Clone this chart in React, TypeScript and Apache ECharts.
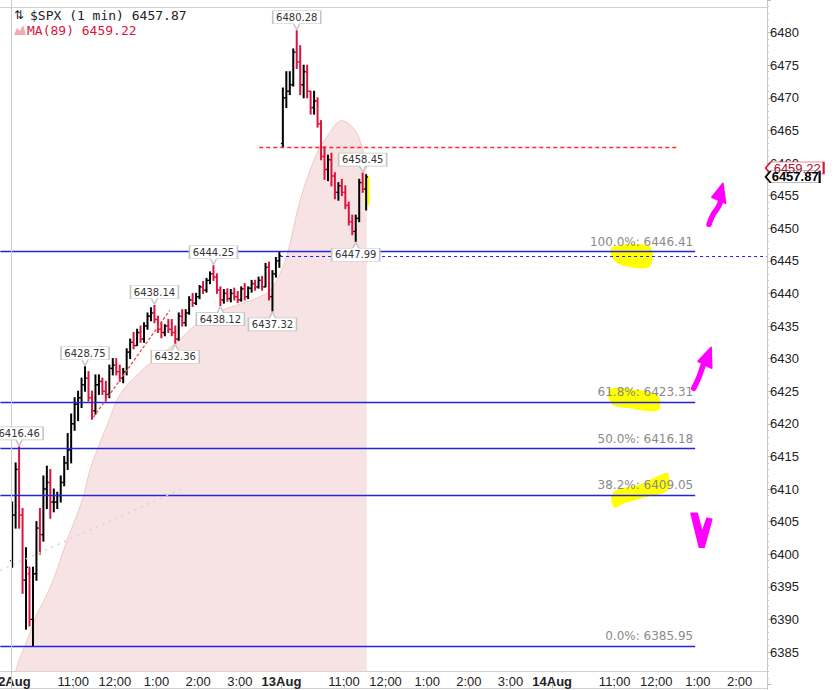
import React, { useEffect, useRef } from 'react';
import * as echarts from 'echarts';

// ---------- axis / session layout ----------
const DAY_NAMES = ['11Aug', '12Aug', '13Aug', '14Aug'];
const PRE_MINUTES = 15; // last minutes of 11Aug visible at the left edge
const SESSION_MINUTES = 390; // 9:30 - 16:00
const LAST_DAY_MINUTES = 310; // visible part of 14Aug
const BAR_MINUTES = 5;

// ---------- price bars [open, high, low, close], 5-minute bars ----------
const bars12Aug: number[][] = [
  [6399, 6408, 6398, 6406], [6406, 6414, 6404, 6413], [6413, 6416.46, 6404, 6406], [6406, 6407, 6394, 6396],
  [6396, 6401, 6388.5, 6398], [6397, 6398, 6389, 6390], [6390, 6398, 6385.95, 6397], [6397, 6405, 6396, 6404],
  [6404, 6407, 6400, 6403], [6403, 6412, 6402, 6410], [6410, 6413.5, 6407, 6411], [6411, 6413, 6405.5, 6408],
  [6408, 6410, 6406.5, 6408], [6408, 6409.5, 6407, 6409], [6409, 6412, 6408, 6411], [6411, 6415, 6410.5, 6414],
  [6414, 6418.5, 6413, 6416], [6416, 6421.5, 6414, 6420], [6420, 6424, 6419, 6423], [6423, 6425, 6420.5, 6424],
  [6424, 6427, 6422.5, 6426], [6426, 6428.75, 6425, 6427], [6427, 6428, 6423.5, 6424], [6424, 6425, 6420.7, 6422],
  [6422, 6427.5, 6421.5, 6426], [6426, 6427.5, 6424.5, 6426.5], [6426.5, 6427, 6424.5, 6425], [6425, 6426.5, 6423.5, 6424.5],
  [6424.5, 6429, 6424, 6428.5], [6428.5, 6430, 6427.5, 6429], [6429, 6430, 6427.5, 6428], [6428, 6429, 6426.5, 6427],
  [6427, 6428.5, 6426.3, 6428], [6428, 6431.5, 6427.5, 6431], [6431, 6433, 6430, 6432.5], [6432.5, 6434, 6431.5, 6432],
  [6432, 6434.5, 6432, 6434], [6434, 6435, 6432.5, 6433], [6433, 6435.5, 6432.5, 6435], [6435, 6437, 6434.5, 6436.5],
  [6436.5, 6437.8, 6435.8, 6437], [6437, 6438.14, 6435.5, 6436], [6436, 6436.5, 6434, 6434.5], [6434.5, 6435.5, 6433.2, 6434],
  [6434, 6435.2, 6433.5, 6435], [6435, 6436, 6434, 6434.5], [6434.5, 6436, 6433.5, 6434], [6434, 6435, 6432.36, 6433],
  [6433, 6437, 6432.8, 6436.5], [6436.5, 6437.5, 6435, 6435.5], [6435.5, 6437.5, 6435, 6437], [6437, 6439.5, 6436.8, 6439],
  [6439, 6440, 6438, 6438.5], [6438.5, 6440, 6438.3, 6439.5], [6439.5, 6441.2, 6439.2, 6441], [6441, 6441.8, 6440, 6440.5],
  [6440.5, 6442.3, 6440.2, 6442], [6442, 6443.3, 6441.5, 6443], [6443, 6444.25, 6442, 6442.5], [6442.5, 6443, 6440, 6440.5],
  [6440.5, 6441, 6438.12, 6439], [6439, 6440.6, 6438.5, 6440], [6440, 6440.7, 6438.8, 6439.2], [6439.2, 6440.6, 6438.7, 6440],
  [6440, 6440.8, 6439, 6439.5], [6439.5, 6440.3, 6438.6, 6439], [6439, 6441, 6438.8, 6440.7], [6440.7, 6441.5, 6439, 6439.5],
  [6439.5, 6441, 6439.2, 6440.8], [6440.8, 6442, 6440.2, 6441.5], [6441.5, 6442, 6440.5, 6441], [6441, 6442.5, 6440.8, 6442],
  [6442, 6442.6, 6440.5, 6441], [6441, 6444.6, 6441, 6444], [6444, 6444.8, 6439, 6439.5], [6439.5, 6443.5, 6437.32, 6443],
  [6443, 6445.5, 6442.5, 6445], [6445, 6446.41, 6444, 6445.76],
];
const bars13Aug: number[][] = [
  [6463, 6471.5, 6462.4, 6470], [6470, 6474, 6468.5, 6471], [6471, 6474, 6470.5, 6472], [6472, 6477.5, 6471.8, 6477],
  [6477, 6480.28, 6474.5, 6475.5], [6475.5, 6478, 6470.5, 6472], [6472, 6475, 6470, 6474], [6474, 6475, 6470, 6471],
  [6471, 6471, 6467.5, 6468.5], [6468.5, 6471, 6467.5, 6469.5], [6469.5, 6470, 6465.5, 6466], [6466, 6466.5, 6460.5, 6461],
  [6461, 6462.5, 6457.5, 6459], [6459, 6461.2, 6457.3, 6460.5], [6460.5, 6461.5, 6456.5, 6458], [6458, 6458.5, 6454.5, 6455.5],
  [6455.5, 6457, 6454.3, 6456.5], [6456.5, 6457.5, 6455, 6455.5], [6455.5, 6456.5, 6453, 6453.5], [6453.5, 6454, 6450.5, 6451],
  [6451, 6452, 6449, 6449.5], [6449.5, 6452, 6447.99, 6451.5], [6451.5, 6457.5, 6451, 6457], [6457, 6458.45, 6455.5, 6456],
  [6456, 6458.2, 6452.8, 6457.87],
];

// ---------- MA(89): [minutes since 12Aug open, value] ----------
const maPoints: number[][] = [
  [7, 6382.0], [12, 6383.7], [25, 6387.2], [38, 6390.9], [46, 6392.5], [61, 6396.0], [81, 6402.1],
  [103, 6408.3], [114, 6412.9], [124, 6415.9], [139, 6419.8], [157, 6424.4], [186, 6427.9], [215, 6430.5],
  [240, 6432.6], [268, 6435.3], [297, 6437.1], [326, 6438.2], [355, 6439.3], [374, 6440.5], [389, 6443.3],
  [399, 6446.2], [417, 6454.3], [441, 6461.5], [456, 6464.1], [477, 6466.5], [499, 6464.5], [513, 6459.22],
];

// ---------- Fibonacci retracement ----------
const fibPcts = ['0.0%', '38.2%', '50.0%', '61.8%', '100.0%'];
const fibValues = [6385.95, 6409.05, 6416.18, 6423.31, 6446.41];
const fibEndMinute = 986;

// ---------- other drawn levels (minutes since 12Aug open) ----------
const priorClose = 6445.76;
const priorCloseFrom = 388;
const redLevel = 6462.4;
const redLevelSpan = [358, 960];
const redTrend = [[119, 6421.0], [229, 6437.4]];
const grayTrend = [[-15, 6397.5], [248, 6410.1]];

// ---------- callouts: [session (1=12Aug, 2=13Aug), bar number, high|low] ----------
const callouts: [number, number, string][] = [
  [1, 2, 'high'], [1, 21, 'high'], [1, 41, 'high'], [1, 47, 'low'], [1, 58, 'high'],
  [1, 60, 'low'], [1, 75, 'low'], [2, 4, 'high'], [2, 21, 'low'], [2, 23, 'high'],
];

// ---------- hand drawn annotations, in [minutes since 12Aug open, price] ----------
const yellowMarks: number[][][] = [
  [[866, 6447.07], [919.5, 6447.22], [921, 6444.15], [885, 6444.15], [867.6, 6445.23]],
  [[863.3, 6425.29], [906.5, 6425.14], [932.5, 6424.22], [932.5, 6422.07], [892.2, 6422.38], [866.2, 6422.99]],
  [[867.6, 6409.49], [906.5, 6410.72], [938.2, 6412.25], [947, 6412.4], [947, 6409.8], [913.7, 6408.73], [885, 6407.81], [869.1, 6407.19]],
  [[509.5, 6457.9], [516.5, 6457.9], [516.5, 6453.5], [509.5, 6453.5]],
];
const magentaStrokes: number[][][] = [
  [[1005.9, 6450.6], [1011.7, 6452.13], [1018.9, 6453.21], [1023.2, 6454.28], [1021.8, 6455.51]],
  [[984.3, 6425.44], [991.5, 6427.29], [997.3, 6428.82], [999, 6429.3]],
];
const magentaFills: number[][][] = [
  [[1010.3, 6454.74], [1026.3, 6456.89], [1030.4, 6453.82]],
  [[990.1, 6429.59], [1008.8, 6431.74], [1010.3, 6428.52]],
  [[980, 6406.27], [988.7, 6406.27], [995.9, 6403.36], [1003.1, 6405.51], [1010.3, 6405.35], [998.7, 6401.06], [991.5, 6401.06]],
];

// ---------- derived ----------
const idx = (g: number) => PRE_MINUTES + Math.round(g);
const barIndex = (session: number, k: number) =>
  PRE_MINUTES + SESSION_MINUTES * (session - 1) + BAR_MINUTES * k + Math.floor(BAR_MINUTES / 2);
const sessions = [bars12Aug, bars13Aug];
const barData: number[][] = [];
sessions.forEach((bars, s) => bars.forEach((b, k) => barData.push([barIndex(s + 1, k), b[0], b[1], b[2], b[3]])));
const lastClose = bars13Aug[bars13Aug.length - 1][3];
const maLast = maPoints[maPoints.length - 1][1];

const categories: string[] = [];
const labelText = new Map<string, string>();
const dayLabels = new Set<string>();
const labelIdx = new Set<number>();
const totalCats = PRE_MINUTES + SESSION_MINUTES * 2 + LAST_DAY_MINUTES;
for (let i = 0; i < totalCats; i++) {
  let day: number;
  let m: number;
  if (i < PRE_MINUTES) {
    day = 0;
    m = SESSION_MINUTES - PRE_MINUTES + i;
  } else {
    const g = i - PRE_MINUTES;
    day = 1 + Math.floor(g / SESSION_MINUTES);
    m = g % SESSION_MINUTES;
  }
  const tot = 9 * 60 + 30 + m;
  const h24 = Math.floor(tot / 60);
  const mm = tot % 60;
  const key = `${DAY_NAMES[day]} ${h24}:${String(mm).padStart(2, '0')}`;
  categories.push(key);
  if (m === 0) {
    labelText.set(key, DAY_NAMES[day]);
    dayLabels.add(key);
    labelIdx.add(i);
  } else if (mm === 0 && h24 >= 11) {
    labelText.set(key, `${h24 > 12 ? h24 - 12 : h24}:00`);
    labelIdx.add(i);
  }
}

const PLOT_BOTTOM_VALUE = 6382.04;
const TOP_CALLOUT = 'path://M0 0H48V13H27L24 19L21 13H0Z';
const BOTTOM_CALLOUT = 'path://M0 6H21L24 0L27 6H48V19H0Z';
const BLUE = '#2424e0';
const RED = '#dc143c';

function buildOption() {
  const calloutData = callouts.map(([s, k, kind]) => {
    const b = sessions[s - 1][k];
    const v = kind === 'high' ? b[1] : b[2];
    const top = kind === 'high';
    return {
      coord: [barIndex(s, k), v],
      value: v,
      symbol: top ? TOP_CALLOUT : BOTTOM_CALLOUT,
      symbolSize: [48, 19],
      symbolOffset: [0, top ? -10.5 : 10.5],
      itemStyle: { color: '#fff', borderColor: '#c4c4c4', borderWidth: 1 },
      label: {
        show: true,
        position: 'inside',
        offset: [0, top ? -3 : 3],
        formatter: v.toFixed(2),
        color: '#333',
        fontSize: 10,
        fontFamily: 'DejaVu Sans',
      },
    };
  });

  const fibLines = fibValues.map((v, i) => [
    {
      coord: [0, v],
      lineStyle: { color: BLUE, width: 1.3, type: 'solid' },
      label: {
        show: true,
        position: 'insideEndTop',
        formatter: `${fibPcts[i]}: ${v.toFixed(2)}`,
        color: '#8a8a8a',
        fontSize: 12,
        fontFamily: 'DejaVu Sans',
        distance: [2, 4],
      },
    },
    { coord: [idx(fibEndMinute), v] },
  ]);

  const otherLines = [
    [
      { coord: [idx(priorCloseFrom), priorClose], lineStyle: { color: BLUE, width: 1.2, type: [3, 3] }, label: { show: false } },
      { coord: [totalCats - 1, priorClose] },
    ],
    [
      { coord: [idx(redLevelSpan[0]), redLevel], lineStyle: { color: '#ff2a2a', width: 1.3, type: [4, 3] }, label: { show: false } },
      { coord: [idx(redLevelSpan[1]), redLevel], lineStyle: { color: '#ff2a2a' } },
    ],
    [
      { coord: [idx(redTrend[0][0]), redTrend[0][1]], lineStyle: { color: '#f04848', width: 1.3, type: [3, 2] }, label: { show: false } },
      { coord: [idx(redTrend[1][0]), redTrend[1][1]] },
    ],
    [
      { coord: [idx(grayTrend[0][0]), grayTrend[0][1]], lineStyle: { color: '#d6d6d6', width: 1.6, type: [2, 5] }, label: { show: false } },
      { coord: [idx(grayTrend[1][0]), grayTrend[1][1]] },
    ],
  ];

  const axisBoxes = [
    {
      coord: [totalCats - 1, maLast],
      value: maLast,
      symbol: 'path://M0 6L5 0H58V12H5Z',
      symbolSize: [58, 12],
      symbolOffset: [28, 0],
      itemStyle: { color: '#fff', borderColor: RED, borderWidth: 1 },
      label: { show: true, position: 'inside', offset: [2.5, 0], formatter: maLast.toFixed(2), color: '#a0102c', fontSize: 13, fontFamily: 'Liberation Sans' },
    },
    {
      coord: [totalCats - 1, lastClose],
      value: lastClose,
      symbol: 'path://M0 6L5 0H54V12H5Z',
      symbolSize: [54, 12],
      symbolOffset: [26, 0],
      itemStyle: { color: '#fff', borderColor: '#000', borderWidth: 1 },
      label: { show: true, position: 'inside', offset: [2.5, 0], formatter: lastClose.toFixed(2), color: '#000', fontSize: 13, fontWeight: 'bold', fontFamily: 'Liberation Sans' },
    },
  ];

  const shapeSeries = (name: string, shapes: number[][][], kind: string, z: number) => ({
    type: 'custom',
    name,
    z,
    silent: true,
    data: shapes.map((s) => [idx(s[0][0]), s[0][1]]),
    encode: { x: 0, y: 1 },
    renderItem: (params: any, api: any) => {
      const s = shapes[params.dataIndex];
      const pts = s.map(([g, v]) => api.coord([idx(g), v]));
      if (kind === 'yellow') {
        return { type: 'polygon', shape: { points: pts, smooth: params.dataIndex < 3 ? 0.35 : 0 }, style: { fill: '#ffff00' } };
      }
      if (kind === 'stroke') {
        return { type: 'polyline', shape: { points: pts, smooth: 0.4 }, style: { stroke: '#ff00ff', lineWidth: 5.5, fill: 'none', lineCap: 'round', lineJoin: 'round' } };
      }
      return { type: 'polygon', shape: { points: pts }, style: { fill: '#ff00ff', stroke: '#ff00ff', lineWidth: 1.5, lineJoin: 'round' } };
    },
  });

  return {
    animation: false,
    backgroundColor: '#ffffff',
    grid: { left: 0, right: 67, top: 0, bottom: 5.4, outerBoundsMode: 'none', containLabel: false },
    xAxis: {
      type: 'category',
      data: categories,
      boundaryGap: true,
      axisLine: { show: false },
      axisTick: {
        show: true,
        alignWithLabel: true,
        interval: (i: number) => labelIdx.has(i),
        length: 4,
        lineStyle: { color: '#bdbdbd' },
      },
      axisLabel: {
        interval: (i: number) => labelIdx.has(i),
        margin: -10,
        color: '#222',
        fontSize: 13,
        fontFamily: 'Liberation Sans',
        formatter: (val: string) => {
          const t = labelText.get(val) || '';
          return dayLabels.has(val) ? `{b|${t}}` : t;
        },
        rich: { b: { fontWeight: 'bold', fontSize: 13, fontFamily: 'Liberation Sans', color: '#222' } },
      },
      splitLine: { show: false },
    },
    yAxis: {
      type: 'value',
      position: 'right',
      min: 6380,
      max: 6485,
      interval: 5,
      axisLine: { show: false },
      axisTick: { show: true, length: 4, lineStyle: { color: '#bbb' } },
      minorTick: { show: true, splitNumber: 5, length: 2, lineStyle: { color: '#c8c8c8' } },
      axisLabel: {
        margin: 3,
        color: '#222',
        fontSize: 13,
        fontFamily: 'Liberation Sans',
        formatter: (v: number) => (v < 6385 || v > 6480 ? '' : String(v)),
      },
      splitLine: { show: false },
    },
    graphic: [
      { type: 'line', silent: true, shape: { x1: 0, y1: 7.5, x2: 767, y2: 7.5 }, style: { stroke: '#cfcfcf', lineWidth: 1 } },
      { type: 'line', silent: true, shape: { x1: 0, y1: 671.5, x2: 767, y2: 671.5 }, style: { stroke: '#cfcfcf', lineWidth: 1 } },
      { type: 'line', silent: true, shape: { x1: 0, y1: 688.5, x2: 767, y2: 688.5 }, style: { stroke: '#cfcfcf', lineWidth: 1 } },
      { type: 'line', silent: true, shape: { x1: 767.5, y1: 0, x2: 767.5, y2: 690 }, style: { stroke: '#c8c8c8', lineWidth: 1 } },
      { type: 'text', silent: true, x: 14, y: 15, style: { text: '⇅', fontSize: 12, fontFamily: 'DejaVu Sans', fill: '#222', verticalAlign: 'middle' } },
      { type: 'text', silent: true, x: 30, y: 15, style: { text: `$SPX (1 min) ${lastClose.toFixed(2)}`, fontSize: 13, fontFamily: 'DejaVu Sans Mono', fill: '#222', verticalAlign: 'middle' } },
      { type: 'polygon', silent: true, shape: { points: [[14, 35], [17, 28], [20, 31], [23, 25], [26, 35]] }, style: { fill: '#f2a9b6' } },
      { type: 'text', silent: true, x: 27, y: 30, style: { text: `MA(89) ${maLast.toFixed(2)}`, fontSize: 13, fontFamily: 'DejaVu Sans Mono', fill: RED, verticalAlign: 'middle' } },
    ],
    series: [
      {
        type: 'line',
        name: 'MA(89)',
        z: 1,
        silent: true,
        data: maPoints.map(([g, v]) => [idx(g), v]),
        smooth: 0.35,
        symbol: 'none',
        lineStyle: { color: '#f0c9c9', width: 1 },
        areaStyle: { color: '#f7e3e3', opacity: 1, origin: PLOT_BOTTOM_VALUE },
      },
      shapeSeries('highlights', yellowMarks, 'yellow', 2),
      {
        type: 'custom',
        name: '$SPX',
        z: 4,
        silent: true,
        data: barData,
        encode: { x: 0, y: [1, 2, 3, 4] },
        renderItem: (params: any, api: any) => {
          const x = api.value(0);
          const o = api.value(1);
          const h = api.value(2);
          const l = api.value(3);
          const c = api.value(4);
          const pH = api.coord([x, h]);
          const pL = api.coord([x, l]);
          const pO = api.coord([x, o]);
          const pC = api.coord([x, c]);
          const color = c >= o ? '#000000' : RED;
          return {
            type: 'group',
            children: [
              { type: 'line', shape: { x1: pH[0], y1: pH[1] - 0.5, x2: pL[0], y2: pL[1] + 0.5 }, style: { stroke: color, lineWidth: 2 } },
              { type: 'line', shape: { x1: pO[0] - 1.9, y1: pO[1], x2: pO[0], y2: pO[1] }, style: { stroke: color, lineWidth: 1.4 } },
              { type: 'line', shape: { x1: pC[0], y1: pC[1], x2: pC[0] + 1.9, y2: pC[1] }, style: { stroke: color, lineWidth: 1.4 } },
            ],
          };
        },
      },
      {
        type: 'line',
        name: 'levels',
        z: 5,
        silent: true,
        data: [[0, 6400]],
        symbol: 'none',
        showSymbol: false,
        lineStyle: { opacity: 0 },
        markLine: {
          silent: true,
          symbol: ['none', 'none'],
          animation: false,
          data: [
            ...fibLines,
            ...otherLines,
            { xAxis: PRE_MINUTES, lineStyle: { color: '#cccccc', width: 1, type: 'solid' }, label: { show: false } },
          ],
        },
        markPoint: {
          silent: true,
          animation: false,
          data: [...calloutData, ...axisBoxes],
        },
      },
      shapeSeries('arrowStrokes', magentaStrokes, 'stroke', 6),
      shapeSeries('arrowHeads', magentaFills, 'fill', 6),
    ],
  };
}

export default function App() {
  const ref = useRef<HTMLDivElement>(null);
  useEffect(() => {
    document.body.style.margin = '0';
    const chart = echarts.init(ref.current as HTMLDivElement, null, { renderer: 'svg' });
    chart.setOption(buildOption() as any);
    return () => chart.dispose();
  }, []);
  return (
    <div
      ref={ref}
      style={{ position: 'absolute', left: 0, top: 0, width: 834, height: 690, background: '#fff' }}
    />
  );
}
